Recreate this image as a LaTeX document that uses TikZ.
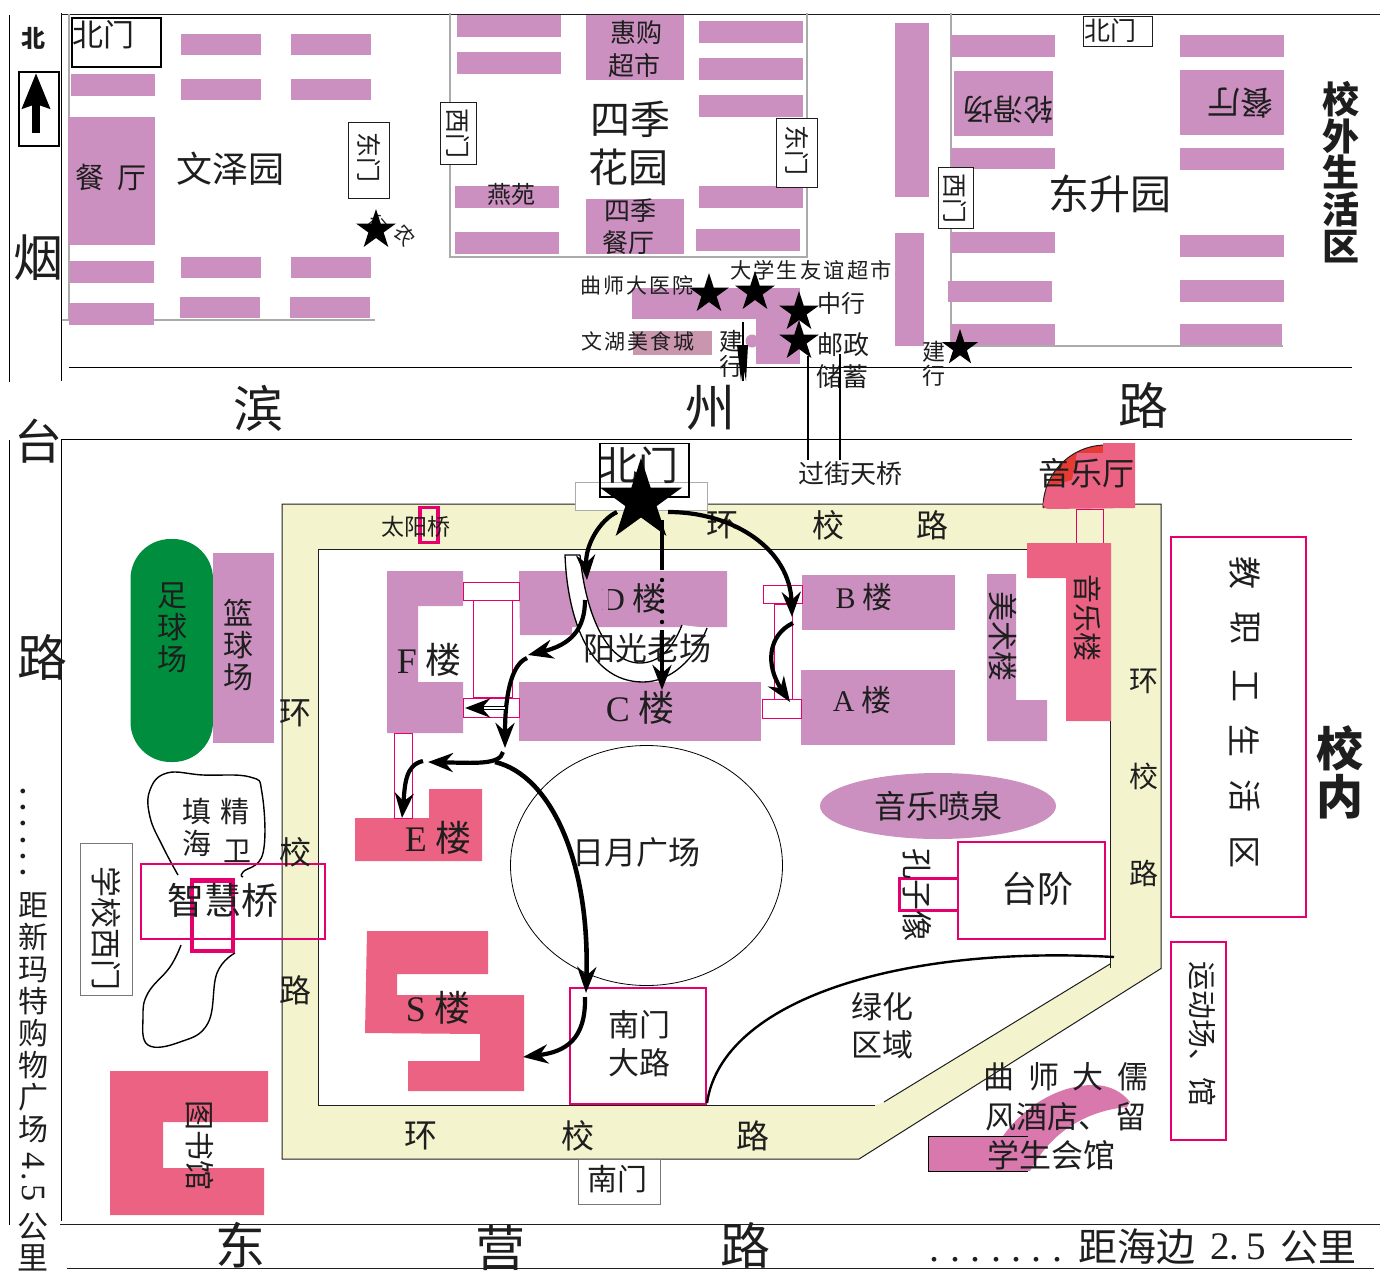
\documentclass[tikz,border=0pt]{standalone}
\usepackage{fontspec}
\setmainfont{Noto Sans CJK SC}
\newfontfamily\ltn{Liberation Serif}
\newfontfamily\lsp[LetterSpace=10]{Noto Sans CJK SC}
\newfontfamily\dotsv[LetterSpace=15.5]{Liberation Serif}
\newfontfamily\dotsh[LetterSpace=26]{Liberation Serif}
\newfontfamily\numv[LetterSpace=9]{Liberation Serif}
\usetikzlibrary{arrows.meta,shapes.geometric}
\definecolor{mauve}{HTML}{CB90BF}
\definecolor{rosy}{HTML}{EC6283}
\definecolor{magent}{HTML}{E6006E}
\definecolor{roadc}{HTML}{F3F4CD}
\definecolor{greenc}{HTML}{008D3D}
\definecolor{hotelc}{HTML}{D878AC}
\definecolor{foodc}{HTML}{C996AE}
\definecolor{wall}{HTML}{ABABAB}
\definecolor{inkc}{HTML}{1E1E1E}
\definecolor{hallred}{HTML}{E63B32}
\newcommand\fz[1]{\fontsize{#1}{#1}\selectfont}
\tikzset{
  lab/.style={inner sep=0pt,outer sep=0pt,text=inkc,align=center},
  thinline/.style={black,line width=1pt},
  grayline/.style={wall,line width=1.6pt},
  gatebox/.style={draw=inkc,line width=1pt,fill=white},
  magbox/.style={draw=magent,line width=2.3pt,fill=white},
  linkbox/.style={draw=magent,line width=1pt,fill=white},
  blackstar/.style={star,star points=5,star point ratio=2.618,fill=black,inner sep=0pt,minimum size=#1},
  route/.style={black,line width=4.2pt,-{Stealth[length=25pt,width=19pt]}},
  riverline/.style={black,line width=1.4pt}
}
\newcommand\Tx[5]{\node[lab,font=\fz{#4}] (#1) at (#2,#3) {#5};}
\newcommand\Rx[5]{\node[lab,font=\fz{#4},rotate=-90] (#1) at (#2,#3) {#5};}
\newcommand\Ux[5]{\node[lab,font=\fz{#4},rotate=180] (#1) at (#2,#3) {#5};}
\newcommand\Sk[6]{\node[lab,font={\fontsize{#4}{#5}\selectfont}] (#1) at (#2,#3) {#6};}
\begin{document}
\begin{tikzpicture}[x=1pt,y=-1pt]
\useasboundingbox (0,0) rectangle (1382,1282);
% frame lines
\coordinate (ovl1) at (9.5,15); \coordinate (ovl2) at (9.5,382);
\coordinate (ovr1) at (61.5,13); \coordinate (ovr2) at (61.5,381);
\draw[thinline] (ovl1)--(ovl2);
\draw[thinline] (ovr1)--(ovr2);
\draw[thinline] (9.5,440)--(9.5,1225);
\draw[thinline] (61.5,439)--(61.5,1221);
\draw[inkc,line width=1pt] (61,14)--(1380,14);
\draw[thinline] (69,367.5)--(1352,367.5);
\draw[thinline] (61,439)--(1352,439);
\draw[inkc,line width=1pt] (60,1224.5)--(1380,1224.5);
\draw[inkc,line width=1pt] (67,1268.5)--(1374,1268.5);
% compounds
\draw[grayline] (69,14)--(69,320);
\draw[grayline] (62,320)--(375,320);
\draw[grayline] (450,13)--(450,257)--(807,257)--(807,13);
\draw[grayline] (951,13)--(951,346)--(1283,346);
% residence blocks
\foreach \x/\y/\w/\h in {
 181/34/80/21,291/34/80/21,181/79/80/21,291/79/80/21,71/74/84/22,68/117/87/128,70/261/84/22,
 181/257/80/21,291/257/80/21,69/303/85/22,180/297/80/21,290/297/80/21,
 457/15/104/22,457/52/104/22,586/15/98/65,699/21/104/22,699/58/104/22,699/95/104/22,
 455/186/104/22,455/232/104/22,586/199/98/55,699/186/104/22,696/229/104/22,
 895/23/34/174,895/233/29/113,
 951/35/104/22,954/71/99/65,951/148/104/21,951/232/104/21,948/281/104/21,951/324/104/21,
 1180/35/104/22,1180/70/104/65,1180/148/104/22,1180/235/104/22,1180/280/104/22,1180/324/102/21,
 632/288/168/31,756/319/44/45}
 {\fill[mauve] (\x,\y) rectangle ++(\w,\h);}
\fill[mauve] (752,341) circle (6.5);
\fill[foodc] (633,331) rectangle (712,355);
% gate boxes, upper area
\node[draw=black,line width=1.4pt,fill=white,minimum width=89pt,minimum height=49pt,inner sep=0pt] (gatewz) at (116.5,42.5) {};
\draw[black,line width=2pt] (18.5,71.5) rectangle (59,146);
\coordinate (narrowa) at (36,133); \coordinate (narrowb) at (36,73);
\draw[black,line width=8pt,-{Stealth[length=35pt,width=27pt,inset=4pt]}] (narrowa)--(narrowb);
\node[gatebox,minimum width=41pt,minimum height=76pt,inner sep=0pt] (gatewze) at (368.5,160) {};
\node[gatebox,minimum width=36pt,minimum height=62pt,inner sep=0pt] (gatesjw) at (458,133) {};
\node[gatebox,minimum width=41pt,minimum height=69pt,inner sep=0pt] (gatesje) at (796.5,152.5) {};
\node[gatebox,minimum width=69pt,minimum height=30pt,inner sep=0pt] (gatedsn) at (1117.5,31) {};
\node[gatebox,minimum width=35pt,minimum height=61pt,inner sep=0pt] (gatedsw) at (955.5,197.5) {};
% upper labels
\Tx{bei}{33}{38}{24}{\bfseries 北}
\Tx{yan}{38}{258}{50}{烟}
\Tx{t1}{103}{35}{31}{北门}
\Tx{t2}{111}{177}{29}{餐\ \ 厅}
\Tx{t3}{230}{169}{36}{文泽园}
\Rx{t4}{369}{157}{25}{东门}
\node[lab,font=\fz{18},rotate=-50] (t5a) at (378,224) {行};
\node[blackstar=42pt] (st1) at (376,230) {};
\node[lab,font=\fz{20},rotate=-50] (t5) at (405,235) {农};
\Rx{t6}{458}{133}{25}{西门}
\Rx{t7}{797}{150}{25}{东门}
\Tx{t8}{636}{33}{26}{惠购}
\Tx{t9}{634}{66}{26}{超市}
\Tx{t10}{630}{119}{40}{四季}
\Tx{t11}{628}{167}{40}{花园}
\Tx{t12}{511}{194}{24}{燕苑}
\Tx{t13}{630}{211}{26}{四季}
\Tx{t14}{628}{243}{26}{餐厅}
\Ux{t15}{1008}{110}{30}{轮滑场}
\Ux{t16}{1240}{103}{33}{餐厅}
\Rx{t17}{955}{198}{25}{西门}
\Tx{t18}{1110}{31}{26}{北门}
\Tx{t19}{1110}{194}{41}{东升园}
\Sk{t20}{1341}{172}{37}{36.7}{\bfseries 校\\ \bfseries 外\\ \bfseries 生\\ \bfseries 活\\ \bfseries 区}
% shops
\node[lab,font=\fz{21}\lsp] (t21) at (637,285) {曲师大医院};
\node[lab,font=\fz{21.3}\lsp] (t22) at (811,270) {大学生友谊超市};
\node[lab,font=\fz{21}\lsp] (t23) at (638,341) {文湖美食城};
\Tx{t24}{841}{303}{24}{中行}
\Tx{t25}{843}{345}{26}{邮政}
\Tx{t26}{842}{377}{26}{储蓄}
\Tx{t27}{731}{341}{24}{建}
\Tx{t28}{731}{366}{24}{行}
\Tx{t29}{934}{352}{23}{建}
\Tx{t30}{934}{376}{23}{行}
\node[blackstar=42pt] (st2) at (709,294) {};
\node[blackstar=42pt] (st3) at (755,292) {};
\node[blackstar=42pt] (st4) at (799,312) {};
\node[blackstar=42pt] (st5) at (799,341) {};
\node[blackstar=38pt] (st6) at (960,348) {};
\coordinate (cca) at (743,322); \coordinate (ccb) at (743,381);
\draw[black,line width=1.6pt] (cca)--(ccb);
\fill[black] (737,345)--(748,345)--(746,381)--(743,366)--(741,381)--cycle;
\coordinate (ov1a) at (807.5,356); \coordinate (ov1b) at (807.5,460);
\coordinate (ov2a) at (840,354); \coordinate (ov2b) at (840,460);
\draw[black,line width=2pt] (ov1a)--(ov1b);
\draw[black,line width=2pt] (ov2a)--(ov2b);
\Tx{t31}{850}{474}{26}{过街天桥}
% road names
\Tx{r1}{258}{408}{50}{滨}
\Tx{r2}{710}{408}{50}{州}
\Tx{r3}{1143}{405}{50}{路}
\Tx{r4}{38}{441}{48}{台}
\Tx{r5}{42}{657}{50}{路}
\Tx{r6}{240}{1245}{50}{东}
\Tx{r7}{500}{1248}{50}{营}
\Tx{r8}{745}{1245}{50}{路}
% campus ring road
\path[draw=inkc,line width=1pt,fill=roadc] (282,504)--(1161,504)--(1161,968.5)--(859,1159)--(282,1159)--cycle;
\fill[white] (318,549)--(1110,549)--(1110,964)--(884,1102)--(875,1105)--(318,1105)--cycle;
\draw[inkc,line width=1pt] (1110,964)--(884,1102);
\draw[inkc,line width=1pt] (875,1105)--(318,1105)--(318,549)--(1028,549);
\draw[inkc,line width=1pt] (1110,721)--(1110,968);
% north gate
\node[draw=wall,line width=1pt,fill=white,minimum width=132pt,minimum height=28pt,inner sep=0pt] (ngw) at (641,496) {};
\Tx{t32}{638}{465}{40}{北门}
\draw[black,line width=1.5pt] (600,443.5) rectangle (689,497);
% music hall
\fill[hallred] (1043,508) arc[start angle=180,end angle=270,radius=63]--(1106,508)--cycle;
\draw[inkc,line width=1pt] (1043,508) arc[start angle=180,end angle=270,radius=63];
\fill[rosy] (1103,443)--(1135,443)--(1135,508)--(1047,509)--(1043,505)--(1047,487)--(1072,480)--(1077,453)--(1103,453)--cycle;
\node[draw=magent,line width=1pt,fill=roadc,minimum width=27pt,minimum height=34pt,inner sep=0pt] (mlink) at (1089.5,526) {};
\fill[rosy] (1027,543)--(1111,543)--(1111,721)--(1066,721)--(1066,578)--(1027,578)--cycle;
\fill[mauve] (987,574)--(1016,574)--(1016,700)--(1047,700)--(1047,741)--(987,741)--cycle;
% buildings
\fill[mauve] (387,571)--(463,571)--(463,606)--(418,606)--(418,682)--(463,682)--(463,733)--(387,733)--cycle;
\fill[mauve] (519,571)--(727,571)--(727,627)--(572,627)--(572,635)--(520,635)--cycle;
\fill[mauve] (519,682) rectangle (761,741);
\fill[mauve] (802,575) rectangle (955,630);
\fill[mauve] (801,670) rectangle (955,745);
\fill[rosy] (355,818)--(429,818)--(429,789)--(482,789)--(482,861)--(355,861)--cycle;
\fill[rosy] (367,931)--(488,931)--(488,974)--(397,974)--(397,995)--(524,995)--(524,1091)--(408,1091)--(408,1061)--(480,1061)--(480,1034)--(365,1033)--cycle;
\fill[rosy] (110,1071)--(268,1071)--(268,1122)--(163,1122)--(163,1168)--(264,1168)--(264,1215)--(110,1215)--cycle;
% links
\node[linkbox,minimum width=39pt,minimum height=97pt,inner sep=0pt] (l1) at (492.5,648.5) {};
\node[linkbox,minimum width=56pt,minimum height=18pt,inner sep=0pt] (l2) at (491,591) {};
\node[linkbox,minimum width=56pt,minimum height=19pt,inner sep=0pt] (l3) at (491,707.5) {};
\node[linkbox,minimum width=18pt,minimum height=97pt,inner sep=0pt] (l4) at (783,652.5) {};
\node[linkbox,minimum width=39pt,minimum height=18pt,inner sep=0pt] (l5) at (782.5,594.5) {};
\node[linkbox,minimum width=39pt,minimum height=19pt,inner sep=0pt] (l6) at (781.5,708.5) {};
\node[linkbox,minimum width=18pt,minimum height=85pt,inner sep=0pt] (l7) at (403,775.5) {};
% crescent over D building
\fill[white] (565,555) .. controls (567,610) and (585,682) .. (643,682) .. controls (670,682) and (695,660) .. (707,628)
  -- (682,625) .. controls (672,650) and (658,663) .. (640,663) .. controls (605,663) and (585,610) .. (580,555) -- cycle;
\draw[black,line width=1.3pt] (580,555)--(565,555) .. controls (567,610) and (585,682) .. (643,682) .. controls (670,682) and (695,660) .. (707,628);
\draw[black,line width=1.3pt] (580,555) .. controls (585,610) and (605,663) .. (640,663) .. controls (658,663) and (672,650) .. (682,625);
% ellipses and boxes
\draw[black,line width=.8pt] (646.5,865.5) ellipse[x radius=136,y radius=120];
\fill[mauve] (938,806) ellipse[x radius=118,y radius=33];
\node[magbox,minimum width=136pt,minimum height=116pt,inner sep=0pt] (snl) at (638,1046) {};
\node[magbox,minimum width=147pt,minimum height=97pt,inner sep=0pt] (tj) at (1031.5,890.5) {};
\draw[magent,line width=3pt] (957,878)--(899.5,878)--(899.5,910)--(957,910);
\node[magbox,minimum width=135pt,minimum height=380pt,inner sep=0pt] (staff) at (1238.5,727) {};
\node[magbox,minimum width=55pt,minimum height=198pt,inner sep=0pt] (sport) at (1198.5,1041) {};
% fields
\fill[greenc,rounded corners=40pt] (130.5,539) rectangle (213,762);
\fill[mauve] (213,553) rectangle (274,743);
% river and bridge
\draw[riverline] plot[smooth,tension=.7] coordinates {(178,875)(163,847)(150,817)(150,790)(167,773)(203,775)(250,777)(262,793)(263,853)(243,872)(243,877)};
\draw[riverline] plot[smooth,tension=.7] coordinates {(181,945)(170,967)(148,993)(143,1017)(148,1045)(180,1042)(208,1023)(217,973)(235,953)};
\draw[magent,line width=2.3pt] (141,864) rectangle (325,939);
\draw[magent,line width=4.5pt] (192,880.5) rectangle (233,951);
\node[draw=wall!70!black,line width=1pt,minimum width=52pt,minimum height=152pt,inner sep=0pt] (wgate) at (106,919) {};
\node[draw=wall!70!black,line width=1pt,minimum width=82pt,minimum height=45pt,inner sep=0pt] (sgate) at (619,1181.5) {};
% small bridge
\draw[magent,line width=3.5pt] (420,507.5) rectangle (438,542.5);
% green area curve
\coordinate (ga) at (707,1103); \coordinate (gb) at (1114,957);
\draw[black,line width=2.4pt] (ga) .. controls (722,1000) and (900,945) .. (gb);
% hotel
\fill[hotelc] (1003,1136) .. controls (1025,1105) and (1060,1085) .. (1093,1085) .. controls (1110,1085) and (1122,1092) .. (1130,1102)
 -- (1127,1107) .. controls (1095,1110) and (1055,1125) .. (1030,1171) -- (1000,1171) --cycle;
\path[draw=black,line width=.8pt,fill=hotelc] (1028,1136)--(928,1136)--(928,1171)--(1028,1171);
% campus labels
\Tx{c1}{416}{527}{23}{太阳桥}
\Tx{c2}{722}{525}{32}{环}
\Tx{c3}{828}{525}{32}{校}
\Tx{c4}{932}{525}{32}{路}
\Tx{c5}{1086}{473}{32}{音乐厅}
\Rx{c6}{1088}{618}{29}{音乐楼}
\Rx{c7}{1003}{636}{30}{美术楼}
\Tx{c8}{295}{713}{32}{环}
\Tx{c9}{295}{852}{32}{校}
\Tx{c10}{295}{990}{32}{路}
\Tx{c11}{1144}{681}{29}{环}
\Tx{c12}{1144}{776}{29}{校}
\Tx{c13}{1144}{873}{29}{路}
\Tx{c14}{421}{1136}{33}{环}
\Tx{c15}{578}{1136}{33}{校}
\Tx{c16}{753}{1136}{33}{路}
\Tx{c17}{617}{1179}{30}{南门}
\Tx{c18}{429}{660}{36}{{\ltn F}\ 楼}
\Tx{c19}{633}{598}{32}{{\ltn D}\ 楼}
\fill[mauve] (603,584) rectangle (607.5,612);
\Tx{c20}{647}{648}{32}{阳光老场}
\Tx{c21}{640}{708}{36}{{\ltn C}\ 楼}
\Tx{c22}{864}{597}{30}{{\ltn B}\ 楼}
\Tx{c23}{862}{700}{30}{{\ltn A}\ 楼}
\Tx{c24}{438}{838}{36}{{\ltn E}\ 楼}
\Tx{c25}{438}{1008}{36}{{\ltn S}\ 楼}
\Tx{c26}{636}{852}{32}{日月广场}
\Tx{c27}{938}{806}{32}{音乐喷泉}
\Tx{c28}{1037}{889}{36}{台阶}
\Rx{c29}{917}{895}{31}{孔子像}
\Tx{c30}{639}{1025}{31}{南门}
\Tx{c31}{639}{1063}{31}{大路}
\Tx{c32}{882}{1007}{31}{绿化}
\Tx{c33}{882}{1045}{31}{区域}
\Sk{c34}{172}{628}{30}{32}{足\\球\\场}
\Sk{c35}{238}{645}{30}{32}{篮\\球\\场}
\Tx{c36}{197}{811}{29}{填}
\Tx{c37}{235}{811}{29}{精}
\Tx{c38}{197}{843}{29}{海}
\Tx{c39}{237}{851}{28}{卫}
\Tx{c40}{223}{900}{37}{智慧桥}
\Rx{c41}{106}{928}{31}{学校西门}
\Rx{c42}{200}{1145}{30}{图书馆}
\Rx{c43}{1203}{1034}{29}{运动场、馆}
\Tx{c44}{1066}{1077}{31}{曲\ \ 师\ \ 大\ \ 儒}
\Tx{c45}{1066}{1117}{31}{风酒店、\ 留}
\Tx{c46}{1051}{1155}{32}{学生会馆}
\Rx{e1}{1245}{573}{33}{教}
\Rx{e2}{1245}{628}{33}{职}
\Rx{e3}{1245}{686}{33}{工}
\Rx{e4}{1245}{741}{33}{生}
\Rx{e5}{1245}{796}{33}{活}
\Rx{e6}{1245}{852}{33}{区}
\Sk{e7}{1340}{772}{47}{48}{\bfseries 校\\ \bfseries 内}
% distance texts
\node[lab,font=\fz{40}\dotsv,rotate=-90,anchor=base] (dv) at (21.5,832) {......};
\Sk{dist}{33}{1018}{30}{32}{距\\新\\玛\\特\\购\\物\\广\\场}
\node[lab,font=\fz{34}\numv,rotate=-90] (dist45) at (33,1177) {4.5};
\Tx{distg}{33}{1227}{31}{公}
\Tx{distl}{33}{1258}{31}{里}
\node[lab,font=\fz{40}\dotsh,anchor=base] (dh) at (996,1261) {.......};
\Tx{sea1}{1137}{1247}{39}{距海边}
\Tx{sea2}{1238}{1247}{39}{\ltn 2.\,5}
\Tx{sea3}{1318}{1247}{38}{公里}
% routes
\node[blackstar=86pt] (nstar) at (641,501) {};
\coordinate (a1) at (617,512); \coordinate (a1m) at (590,540); \coordinate (a1e) at (587,580);
\draw[route] (a1) .. controls (600,520) and (585,545) .. (a1e);
\coordinate (a2) at (585,600); \coordinate (a2e) at (528,655);
\draw[route] (a2) .. controls (585,630) and (570,645) .. (a2e);
\coordinate (a3) at (527,658); \coordinate (a3e) at (505,748);
\draw[route] (a3) .. controls (510,665) and (505,700) .. (a3e);
\coordinate (a4) at (505,708); \coordinate (a4e) at (465,708);
\draw[route] (a4)--(a4e);
\draw[white,line width=1.2pt] (505,708)--(484,708);
\coordinate (a5) at (503,752); \coordinate (a5e) at (428,762);
\draw[route] (a5) .. controls (500,765) and (475,763) .. (a5e);
\coordinate (a6) at (423,761); \coordinate (a6e) at (402,818);
\draw[route] (a6) .. controls (405,765) and (405,785) .. (a6e);
\coordinate (a7) at (495,762); \coordinate (a7e) at (586,993);
\draw[black,line width=4.6pt,-{Stealth[length=26pt,width=19pt]}] (a7) .. controls (550,775) and (590,860) .. (a7e);
\coordinate (a8) at (585,997); \coordinate (a8e) at (523,1057);
\draw[route] (a8) .. controls (586,1040) and (565,1052) .. (a8e);
\coordinate (a9) at (662,520); \coordinate (a9m) at (662,570); \coordinate (a9d) at (662,630); \coordinate (a9e) at (662,690);
\draw[black,line width=4.4pt] (a9)--(a9m);
\draw[black,line width=4.4pt,line cap=round,dash pattern=on 0pt off 10.5pt] (662,580)--(662,623);
\draw[route] (a9d)--(a9e);
\coordinate (a10) at (668,512); \coordinate (a10e) at (792,617);
\draw[route] (a10) .. controls (735,512) and (790,550) .. (a10e);
\coordinate (a11) at (793,623); \coordinate (a11e) at (790,702);
\draw[route] (a11) .. controls (768,635) and (765,665) .. (a11e);
\end{tikzpicture}
\end{document}
